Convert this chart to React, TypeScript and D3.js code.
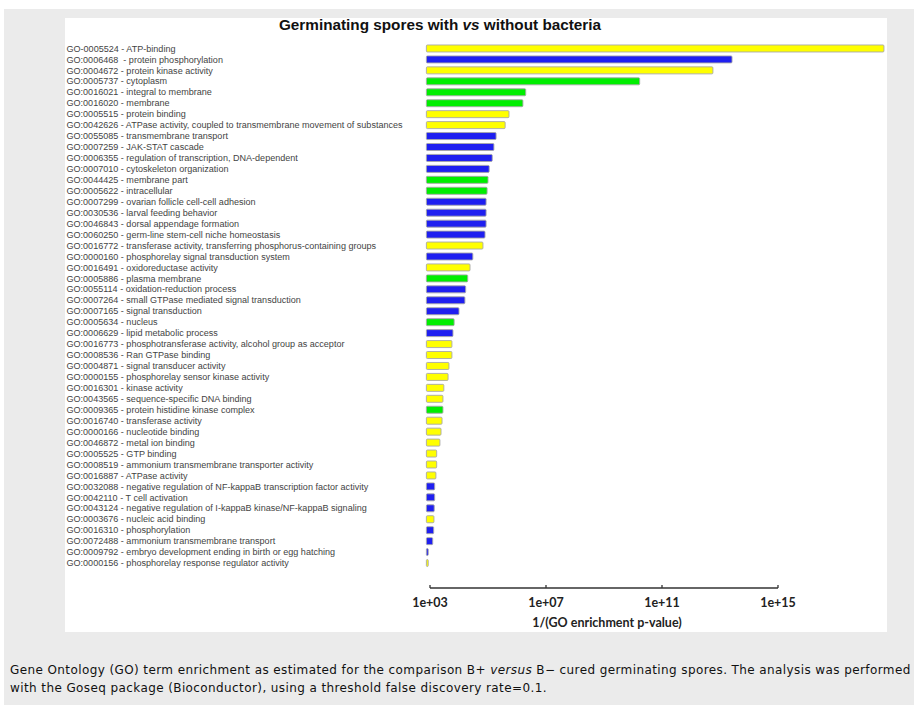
import React from "react";
import * as d3 from "d3";

// GO terms, top to bottom
const terms = [
  "GO-0005524 - ATP-binding",
  "GO:0006468  - protein phosphorylation",
  "GO:0004672 - protein kinase activity",
  "GO:0005737 - cytoplasm",
  "GO:0016021 - integral to membrane",
  "GO:0016020 - membrane",
  "GO:0005515 - protein binding",
  "GO:0042626 - ATPase activity, coupled to transmembrane movement of substances",
  "GO:0055085 - transmembrane transport",
  "GO:0007259 - JAK-STAT cascade",
  "GO:0006355 - regulation of transcription, DNA-dependent",
  "GO:0007010 - cytoskeleton organization",
  "GO:0044425 - membrane part",
  "GO:0005622 - intracellular",
  "GO:0007299 - ovarian follicle cell-cell adhesion",
  "GO:0030536 - larval feeding behavior",
  "GO:0046843 - dorsal appendage formation",
  "GO:0060250 - germ-line stem-cell niche homeostasis",
  "GO:0016772 - transferase activity, transferring phosphorus-containing groups",
  "GO:0000160 - phosphorelay signal transduction system",
  "GO:0016491 - oxidoreductase activity",
  "GO:0005886 - plasma membrane",
  "GO:0055114 - oxidation-reduction process",
  "GO:0007264 - small GTPase mediated signal transduction",
  "GO:0007165 - signal transduction",
  "GO:0005634 - nucleus",
  "GO:0006629 - lipid metabolic process",
  "GO:0016773 - phosphotransferase activity, alcohol group as acceptor",
  "GO:0008536 - Ran GTPase binding",
  "GO:0004871 - signal transducer activity",
  "GO:0000155 - phosphorelay sensor kinase activity",
  "GO:0016301 - kinase activity",
  "GO:0043565 - sequence-specific DNA binding",
  "GO:0009365 - protein histidine kinase complex",
  "GO:0016740 - transferase activity",
  "GO:0000166 - nucleotide binding",
  "GO:0046872 - metal ion binding",
  "GO:0005525 - GTP binding",
  "GO:0008519 - ammonium transmembrane transporter activity",
  "GO:0016887 - ATPase activity",
  "GO:0032088 - negative regulation of NF-kappaB transcription factor activity",
  "GO:0042110 - T cell activation",
  "GO:0043124 - negative regulation of I-kappaB kinase/NF-kappaB signaling",
  "GO:0003676 - nucleic acid binding",
  "GO:0016310 - phosphorylation",
  "GO:0072488 - ammonium transmembrane transport",
  "GO:0009792 - embryo development ending in birth or egg hatching",
  "GO:0000156 - phosphorelay response regulator activity",
];

// 1 / (enrichment p-value) per term
const enrichment = [
  4.5e18, 2.6e13, 5.7e12, 1.7e10, 2.0e6, 1.6e6, 5.3e5, 3.9e5, 1.9e5, 1.6e5,
  1.4e5, 1.1e5, 1.0e5, 9.3e4, 8.6e4, 8.6e4, 8.6e4, 7.9e4, 6.7e4, 3.0e4,
  2.4e4, 2.0e4, 1.7e4, 1.6e4, 1.0e4, 6.8e3, 6.2e3, 5.7e3, 5.7e3, 4.5e3,
  4.2e3, 3.0e3, 2.8e3, 2.8e3, 2.6e3, 2.4e3, 2.2e3, 1.7e3, 1.7e3, 1.6e3,
  1.45e3, 1.45e3, 1.4e3, 1.37e3, 1.34e3, 1.24e3, 8.7e2, 8.7e2,
];

// GO namespace: MF = molecular function, BP = biological process, CC = cellular component
const ontology = [
  "MF", "BP", "MF", "CC", "CC", "CC", "MF", "MF", "BP", "BP",
  "BP", "BP", "CC", "CC", "BP", "BP", "BP", "BP", "MF", "BP",
  "MF", "CC", "BP", "BP", "BP", "CC", "BP", "MF", "MF", "MF",
  "MF", "MF", "MF", "CC", "MF", "MF", "MF", "MF", "MF", "MF",
  "BP", "BP", "BP", "MF", "BP", "BP", "BP", "MF",
];

const ontologyKeys = ["MF", "BP", "CC"];
const ontologyColors = ["#ffff00", "#1f1ff0", "#00ee00"];

const tickValues = [1e3, 1e7, 1e11, 1e15];
const tickLabels = ["1e+03", "1e+07", "1e+11", "1e+15"];
const barBase = 7.5e2;

const W = 914;
const H = 705;

export default function App() {
  const x = d3.scaleLog().domain([1e3, 1e15]).range([430, 778]);
  const y = d3
    .scaleBand<string>()
    .domain(terms.map((_, i) => String(i)))
    .range([43, 568.5])
    .paddingInner(0.36)
    .paddingOuter(0.18);
  const color = d3.scaleOrdinal<string, string>().domain(ontologyKeys).range(ontologyColors);
  const axisY = 588;
  const labelFont = "'Liberation Sans', Arial, sans-serif";
  const axisFont = "Lato, 'Open Sans', sans-serif";
  const captionFont = "'DejaVu Sans', Verdana, sans-serif";

  return (
    <svg
      width={W}
      height={H}
      style={{ position: "absolute", left: 0, top: 0, background: "#fff" }}
    >
      <rect x={4} y={9} width={W - 4} height={H - 9} fill="#ebebeb" />
      <rect x={65} y={18} width={822} height={614} fill="#ffffff" />

      <text
        x={440}
        y={30}
        textAnchor="middle"
        fontFamily={labelFont}
        fontWeight="bold"
        fontSize={15.3}
        fill="#111"
      >
        Germinating spores with <tspan fontStyle="italic">vs</tspan> without bacteria
      </text>

      {terms.map((t, i) => {
        const yy = y(String(i))!;
        const h = y.bandwidth();
        const x0 = x(barBase);
        return (
          <g key={i}>
            <text
              x={66.5}
              y={yy + h / 2}
              dy="0.35em"
              fontFamily={labelFont}
              fontSize={9.05}
              fill="#444"
              style={{ whiteSpace: "pre" }}
            >
              {t}
            </text>
            <rect
              x={x0}
              y={yy}
              width={Math.max(0.8, x(enrichment[i]) - x0)}
              height={h}
              rx={1}
              fill={color(ontology[i])}
              stroke="#a8a8a8"
              strokeWidth={0.9}
            />
          </g>
        );
      })}

      <g>
        <line
          x1={x(tickValues[0])}
          x2={x(tickValues[tickValues.length - 1])}
          y1={axisY}
          y2={axisY}
          stroke="#333"
          strokeWidth={1.3}
        />
        {tickValues.map((v, i) => (
          <g key={i}>
            <line x1={x(v)} x2={x(v)} y1={axisY} y2={axisY - 3} stroke="#333" strokeWidth={1.3} />
            <text
              x={x(v)}
              y={axisY + 19}
              textAnchor="middle"
              fontFamily={axisFont}
              fontWeight="bold"
              fontSize={12.5}
              fill="#222"
            >
              {tickLabels[i]}
            </text>
          </g>
        ))}
        <text
          x={607}
          y={axisY + 39}
          textAnchor="middle"
          fontFamily={axisFont}
          fontWeight="bold"
          fontSize={12.5}
          fill="#222"
        >
          1/(GO enrichment p-value)
        </text>
      </g>

      <text x={10} y={674} fontFamily={captionFont} fontSize={12} letterSpacing={0.4} fill="#111">
        Gene Ontology (GO) term enrichment as estimated for the comparison B+{" "}
        <tspan fontStyle="italic">versus</tspan> B− cured germinating spores. The analysis was performed
      </text>
      <text x={10} y={692} fontFamily={captionFont} fontSize={12} letterSpacing={0.4} fill="#111">
        with the Goseq package (Bioconductor), using a threshold false discovery rate=0.1.
      </text>
    </svg>
  );
}
